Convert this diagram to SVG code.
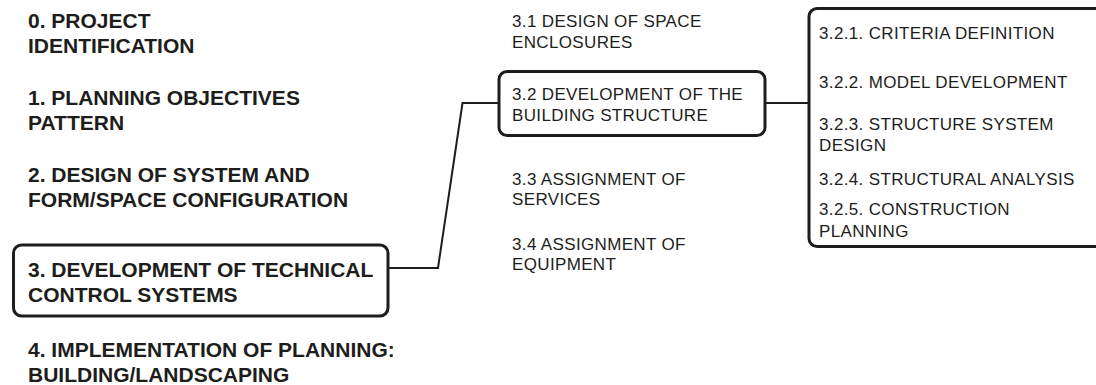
<svg xmlns="http://www.w3.org/2000/svg" width="1096" height="385" viewBox="0 0 1096 385">
  <style>
    .phase { font-family: "Liberation Sans", Arial, sans-serif; font-weight: bold; font-size: 21px; fill: #1d1d1b; }
    .task { font-family: "Liberation Sans", Arial, sans-serif; font-size: 17px; letter-spacing: 0.35px; fill: #1d1d1b; }
    .box { fill: #ffffff; stroke: #1d1d1b; stroke-width: 3; }
    .link { fill: none; stroke: #1d1d1b; stroke-width: 2; stroke-linejoin: miter; }
  </style>
  <rect width="1096" height="385" fill="#ffffff"/>

  <!-- connectors -->
  <g id="connectors">
    <polyline class="link" points="388,268 438,268 462.5,103 498,103"/>
    <line class="link" x1="765" y1="103" x2="809" y2="103"/>
  </g>

  <!-- main phases -->
  <g id="phase-0">
    <text class="phase" x="28" y="28">0. PROJECT</text>
    <text class="phase" x="28" y="53">IDENTIFICATION</text>
  </g>
  <g id="phase-1">
    <text class="phase" x="28" y="105">1. PLANNING OBJECTIVES</text>
    <text class="phase" x="28" y="130">PATTERN</text>
  </g>
  <g id="phase-2">
    <text class="phase" x="28" y="182">2. DESIGN OF SYSTEM AND</text>
    <text class="phase" x="28" y="207">FORM/SPACE CONFIGURATION</text>
  </g>
  <g id="phase-3">
    <rect class="box" x="13.5" y="245" width="374.5" height="71" rx="8"/>
    <text class="phase" x="28" y="277">3. DEVELOPMENT OF TECHNICAL</text>
    <text class="phase" x="28" y="302">CONTROL SYSTEMS</text>
  </g>
  <g id="phase-4">
    <text class="phase" x="28" y="357">4. IMPLEMENTATION OF PLANNING:</text>
    <text class="phase" x="28" y="382">BUILDING/LANDSCAPING</text>
  </g>

  <!-- sub-steps of phase 3 -->
  <g id="step-3-1">
    <text class="task" x="512" y="27">3.1 DESIGN OF SPACE</text>
    <text class="task" x="512" y="48">ENCLOSURES</text>
  </g>
  <g id="step-3-2">
    <rect class="box" x="499" y="71.5" width="266" height="64" rx="8"/>
    <text class="task" x="512" y="100">3.2 DEVELOPMENT OF THE</text>
    <text class="task" x="512" y="120.5">BUILDING STRUCTURE</text>
  </g>
  <g id="step-3-3">
    <text class="task" x="512" y="184.5">3.3 ASSIGNMENT OF</text>
    <text class="task" x="512" y="204.5">SERVICES</text>
  </g>
  <g id="step-3-4">
    <text class="task" x="512" y="249.5">3.4 ASSIGNMENT OF</text>
    <text class="task" x="512" y="269.5">EQUIPMENT</text>
  </g>

  <!-- detail steps of 3.2 -->
  <g id="step-3-2-details">
    <rect class="box" x="809" y="8.5" width="320" height="238" rx="8"/>
    <text class="task" x="819" y="38.5">3.2.1. CRITERIA DEFINITION</text>
    <text class="task" x="819" y="87.5">3.2.2. MODEL DEVELOPMENT</text>
    <text class="task" x="819" y="130">3.2.3. STRUCTURE SYSTEM</text>
    <text class="task" x="819" y="151">DESIGN</text>
    <text class="task" x="819" y="185">3.2.4. STRUCTURAL ANALYSIS</text>
    <text class="task" x="819" y="215">3.2.5. CONSTRUCTION</text>
    <text class="task" x="819" y="236.5">PLANNING</text>
  </g>
</svg>
